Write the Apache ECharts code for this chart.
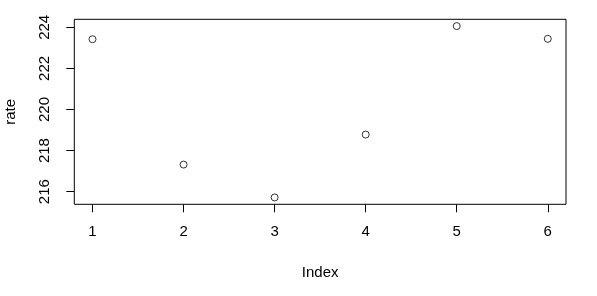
<!DOCTYPE html>
<html><head><meta charset="utf-8">
<script src="https://cdn.jsdelivr.net/npm/echarts@6/dist/echarts.min.js"></script>
<style>html,body{margin:0;padding:0;background:#fff}#c{width:597px;height:296px}</style>
</head><body><div id="c"></div>
<script>
const indexValues = [1, 2, 3, 4, 5, 6];
const rateValues = [223.42, 217.32, 215.72, 218.78, 224.06, 223.44];
const xTicks = [1, 2, 3, 4, 5, 6];
const yTicks = [216, 218, 220, 222, 224];

const font = 'Liberation Sans, Arial, sans-serif';
const chart = echarts.init(document.getElementById('c'), null, {renderer: 'canvas'});
const points = indexValues.map((x, i) => [x, rateValues[i]]);
chart.setOption({
  animation: false,
  grid: {left: 74.3, right: 31, top: 19.3, bottom: 91.7, show: true, borderColor: '#000', borderWidth: 1,
         backgroundColor: 'transparent', containLabel: false, outerBoundsMode: 'none'},
  xAxis: {
    type: 'value', min: 0.8, max: 6.2,
    name: 'Index', nameLocation: 'middle', nameGap: 61,
    nameTextStyle: {fontFamily: font, fontSize: 15, color: '#000'},
    axisLine: {show: false},
    splitLine: {show: false},
    axisTick: {show: true, length: 8, lineStyle: {color: '#000'}, customValues: xTicks},
    axisLabel: {fontFamily: font, fontSize: 15, color: '#000', margin: 20, customValues: xTicks}
  },
  yAxis: {
    type: 'value', min: 215.386, max: 224.39,
    name: 'rate', nameLocation: 'middle', nameGap: 56, nameRotate: 90,
    nameTextStyle: {fontFamily: font, fontSize: 15, color: '#000'},
    axisLine: {show: false},
    splitLine: {show: false},
    axisTick: {show: true, length: 8, lineStyle: {color: '#000'}, customValues: yTicks},
    axisLabel: {fontFamily: font, fontSize: 15, color: '#000', margin: 22, rotate: 90, customValues: yTicks}
  },
  series: [{
    type: 'scatter', data: points, symbol: 'circle', symbolSize: 7,
    itemStyle: {color: 'transparent', borderColor: '#000', borderWidth: 1}
  }]
});
</script></body></html>
